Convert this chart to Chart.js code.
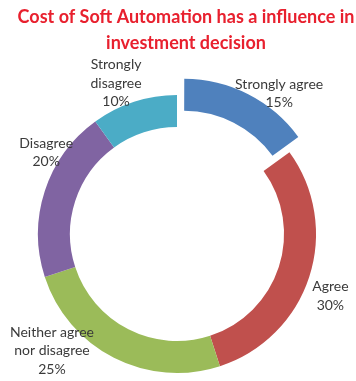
<!DOCTYPE html>
<html>
<head>
<meta charset="utf-8">
<script src="https://cdn.jsdelivr.net/npm/chart.js@4.4.0/dist/chart.umd.min.js"></script>
<style>
  html, body { margin: 0; padding: 0; background: #ffffff; }
  #wrap { width: 356px; height: 381px; position: relative; }
</style>
</head>
<body>
<div id="wrap"><canvas id="myChart" width="356" height="381"></canvas></div>
<script>
// data
var categorias = [['Strongly agree'], ['Agree'], ['Neither agree', 'nor disagree'], ['Disagree'], ['Strongly', 'disagree']]
var valores = [15, 30, 25, 20, 10]
var cores = ['#4F81BD', '#C0504D', '#9BBB59', '#8064A2', '#4BACC6']
var titulo = ['Cost of Soft Automation has a influence in', 'investment decision']

// where each label sits: turn (degrees) from the slice middle, and distance as a share of the radius
var giroRotulo = [9, 4, 20, 14, -4]
var distRotulo = [1.25, 1.19, 1.23, 1.11, 1.17]

var total = valores.reduce(function (a, b) { return a + b }, 0)

var pluginTitulo = {
    id: 'titulo',
    afterDraw: function (chart) {
        var ctx = chart.ctx
        ctx.save()
        ctx.fillStyle = '#e8202e'
        ctx.font = 'bold 18px Lato'
        ctx.textAlign = 'center'
        ctx.textBaseline = 'middle'
        ctx.fillText(titulo[0], 186, 17)
        ctx.fillText(titulo[1], 186, 43)
        ctx.restore()
    }
}

var pluginRotulos = {
    id: 'rotulos',
    afterDraw: function (chart) {
        var ctx = chart.ctx
        var arcos = chart.getDatasetMeta(0).data
        ctx.save()
        ctx.fillStyle = '#3a3a3a'
        ctx.font = '14px Lato'
        ctx.textAlign = 'center'
        ctx.textBaseline = 'middle'
        for (var i = 0; i < arcos.length; i++) {
            var a = arcos[i]
            var meio = (a.startAngle + a.endAngle) / 2 + giroRotulo[i] * Math.PI / 180
            var r = a.outerRadius * distRotulo[i]
            var cx = a.x + Math.cos(meio) * r
            var cy = a.y + Math.sin(meio) * r
            var linhas = categorias[i].concat([Math.round(valores[i] / total * 100) + '%'])
            var alturaLinha = 18.5
            var y0 = cy - (linhas.length - 1) * alturaLinha / 2
            for (var j = 0; j < linhas.length; j++) {
                ctx.fillText(linhas[j], cx, y0 + j * alturaLinha)
            }
        }
        ctx.restore()
    }
}

const ctx = document.getElementById('myChart');
new Chart(ctx, {
    type: 'doughnut',
    data: {
        labels: categorias.map(function (c) { return c.join(' ') }),
        datasets: [{
            data: valores,
            backgroundColor: cores,
            borderWidth: 0,
            offset: [60, 0, 0, 0, 0]
        }]
    },
    options: {
        responsive: false,
        animation: false,
        radius: 139,
        cutout: '77%',
        layout: {
            padding: { left: 0, right: 2, top: 87, bottom: 0 }
        },
        plugins: {
            legend: { display: false },
            tooltip: { enabled: false }
        }
    },
    plugins: [pluginTitulo, pluginRotulos]
})
</script>
</body>
</html>
